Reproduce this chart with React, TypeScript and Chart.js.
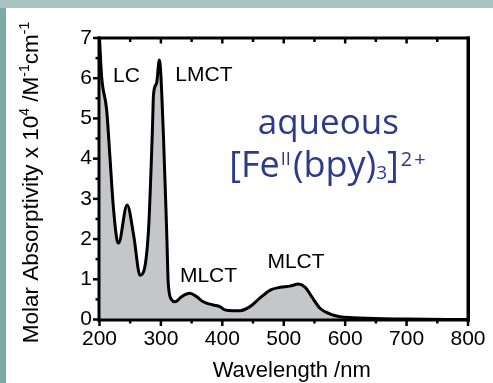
import React, { useEffect, useRef } from "react";
import { Chart, registerables } from "chart.js";

Chart.register(...registerables);

// ---- data ----
const wavelengthNm = [
  200, 203.5, 211.7, 217, 222.5, 229, 231, 245, 256, 266, 279.5, 286, 288, 293, 297.5,
  304, 309.5, 312, 317.5, 323, 334, 347, 358, 369, 385, 396, 404, 418, 429, 445, 461, 478,
  494, 510, 524, 535, 545.5, 559, 575, 591.5, 613, 635, 700, 800,
];
const absorptivity = [
  7.0, 6.04, 5.21, 4.05, 2.81, 1.94, 1.9, 2.85, 2.06, 1.1, 2.14, 4.63, 5.6, 5.88, 6.45,
  4.63, 2.14, 0.9, 0.49, 0.44, 0.57, 0.65, 0.57, 0.44, 0.36, 0.32, 0.24, 0.22, 0.22, 0.32, 0.53, 0.73,
  0.8, 0.83, 0.88, 0.8, 0.57, 0.28, 0.14, 0.07, 0.045, 0.03, 0.01, 0,
];
const xMajorTicks = [200, 300, 400, 500, 600, 700, 800];
const yMajorTicks = [0, 1, 2, 3, 4, 5, 6, 7];

const bandLabels = ["LC", "LMCT", "MLCT", "MLCT"];
const bandLabelNm = [244, 370, 377.5, 520];
const bandLabelAbs = [5.91, 5.93, 0.93, 1.28];

const xTitle = "Wavelength /nm";

const ARIAL = '"Liberation Sans", Arial, Helvetica, sans-serif';
const BLUE_FONT = '"Open Sans", "Noto Sans", sans-serif';
const BLUE = "#2c3a8c";

type Seg = { t: string; s: number; dy: number; f: string; gap?: number };

function richWidth(ctx: CanvasRenderingContext2D, segs: Seg[]) {
  let w = 0;
  for (const g of segs) {
    ctx.font = `${g.s}px ${g.f}`;
    w += (g.gap || 0) + ctx.measureText(g.t).width;
  }
  return w;
}
function drawRich(ctx: CanvasRenderingContext2D, segs: Seg[], x: number, y: number) {
  let cx = x;
  ctx.textAlign = "left";
  ctx.textBaseline = "alphabetic";
  for (const g of segs) {
    ctx.font = `${g.s}px ${g.f}`;
    cx += g.gap || 0;
    ctx.fillText(g.t, cx, y + g.dy);
    cx += ctx.measureText(g.t).width;
  }
}

const decorPlugin = {
  id: "decor",
  beforeDraw(chart: any) {
    const { ctx, width, height } = chart;
    ctx.save();
    ctx.fillStyle = "#8fb3b1";
    ctx.fillRect(0, 0, width, height);
    ctx.fillStyle = "#a9c3c3";
    ctx.fillRect(0, 0, width, 8);
    ctx.fillStyle = "#7fa9a7";
    ctx.fillRect(0, 8, 6, height - 8);
    ctx.fillStyle = "#ffffff";
    ctx.fillRect(6, 8, width - 6, height - 8);
    ctx.restore();
  },
  afterDraw(chart: any) {
    const { ctx, chartArea: a } = chart;
    const xs = chart.scales.x;
    const ys = chart.scales.y;
    ctx.save();
    ctx.globalAlpha = 1;
    ctx.fillStyle = "#000";
    const L = Math.round(a.left), R = Math.round(a.right), T = Math.round(a.top), B = Math.round(a.bottom);
    // frame (filled rects)
    ctx.fillRect(L - 1.5, T - 1.5, 3, B - T + 3);
    ctx.fillRect(R - 1.5, T - 1.5, 3.5, B - T + 3);
    ctx.fillRect(L - 1.5, T - 1.5, R - L + 3, 3);
    ctx.fillRect(L - 1.5, B - 1.5, R - L + 3.5, 3);
    // ticks
    for (let v = xs.min; v <= xs.max; v += 50) {
      const px = xs.getPixelForValue(v);
      const major = v % 100 === 0;
      ctx.fillRect(px - 1.25, B, 2.5, major ? 6 : 3.5);
      if (v > xs.min && v < xs.max) ctx.fillRect(px - 1.25, T, 2.5, major ? 5.5 : 4);
    }
    for (let v = ys.min; v <= ys.max; v += 0.5) {
      const py = ys.getPixelForValue(v);
      const major = Number.isInteger(v);
      const len = major ? 6 : 3.5;
      ctx.fillRect(L - len, py - 1.25, len, 2.5);
    }

    // band labels
    ctx.font = `21px ${ARIAL}`;
    ctx.textAlign = "center";
    ctx.textBaseline = "alphabetic";
    bandLabels.forEach((t, i) => {
      ctx.fillText(t, xs.getPixelForValue(bandLabelNm[i]), ys.getPixelForValue(bandLabelAbs[i]));
    });

    // x title
    ctx.font = `22px ${ARIAL}`;
    ctx.fillText(xTitle, 291.7, 377);

    // y title (rotated, with superscripts)
    const ySegs: Seg[] = [
      { t: "Molar Absorptivity x 10", s: 22.5, dy: 0, f: ARIAL },
      { t: "4", s: 14, dy: -9, f: ARIAL },
      { t: " /M", s: 22.5, dy: 0, f: ARIAL },
      { t: "-1", s: 14, dy: -9, f: ARIAL },
      { t: "cm", s: 22.5, dy: 0, f: ARIAL },
      { t: "-1", s: 14, dy: -9, f: ARIAL },
    ];
    const yw = richWidth(ctx, ySegs);
    ctx.save();
    ctx.translate(37.5, 182.5);
    ctx.rotate(-Math.PI / 2);
    drawRich(ctx, ySegs, -yw / 2, 0);
    ctx.restore();

    // blue compound label
    ctx.fillStyle = BLUE;
    ctx.font = `35px ${BLUE_FONT}`;
    ctx.textAlign = "center";
    ctx.fillText("aqueous", xs.getPixelForValue(572.5), ys.getPixelForValue(4.61));
    const fSegs: Seg[] = [
      { t: "[Fe", s: 36, dy: 0, f: BLUE_FONT },
      { t: "II", s: 18, dy: -12, f: BLUE_FONT, gap: 1 },
      { t: "(bpy)", s: 36, dy: 0, f: BLUE_FONT, gap: 2 },
      { t: "3", s: 19, dy: 2, f: BLUE_FONT },
      { t: "]", s: 36, dy: 0, f: BLUE_FONT },
      { t: "2", s: 20, dy: -11, f: BLUE_FONT, gap: 2 },
      { t: "+", s: 20, dy: -11, f: BLUE_FONT, gap: 2 },
    ];
    drawRich(ctx, fSegs, xs.getPixelForValue(411.3), ys.getPixelForValue(3.55));
    ctx.restore();
  },
};

export default function App() {
  const ref = useRef<HTMLCanvasElement | null>(null);
  useEffect(() => {
    if (!ref.current) return;
    const chart = new Chart(ref.current, {
      type: "line",
      data: {
        datasets: [
          {
            data: wavelengthNm.map((x, i) => ({ x, y: absorptivity[i] })),
            borderColor: "#000",
            borderWidth: 3,
            backgroundColor: "#c5c6ca",
            fill: "origin",
            cubicInterpolationMode: "monotone",
            pointRadius: 0,
            borderJoinStyle: "round",
            borderCapStyle: "round",
          },
        ],
      },
      options: {
        animation: false,
        responsive: false,
        maintainAspectRatio: false,
        devicePixelRatio: 1,
        layout: { padding: { left: 72.8, right: 25, top: 38, bottom: 24.3 } },
        plugins: { legend: { display: false }, tooltip: { enabled: false } },
        scales: {
          x: {
            type: "linear",
            min: 200,
            max: 800,
            grid: { display: false, drawTicks: false, tickLength: 0 },
            border: { display: false },
            afterBuildTicks: (s: any) => {
              s.ticks = xMajorTicks.map((v) => ({ value: v }));
            },
            ticks: {
              color: "#000",
              font: { family: ARIAL, size: 21 },
              padding: 7,
              maxRotation: 0,
              autoSkip: false,
            },
          },
          y: {
            type: "linear",
            min: 0,
            max: 7,
            grid: { display: false, drawTicks: false, tickLength: 0 },
            border: { display: false },
            afterBuildTicks: (s: any) => {
              s.ticks = yMajorTicks.map((v) => ({ value: v }));
            },
            ticks: {
              color: "#000",
              font: { family: ARIAL, size: 21 },
              padding: 7.5,
            },
          },
        },
      },
      plugins: [decorPlugin],
    } as any);
    return () => chart.destroy();
  }, []);
  return (
    <div style={{ position: "fixed", left: 0, top: 0, width: 493, height: 383 }}>
      <canvas ref={ref} width={493} height={383} style={{ display: "block", width: 493, height: 383 }} />
    </div>
  );
}
